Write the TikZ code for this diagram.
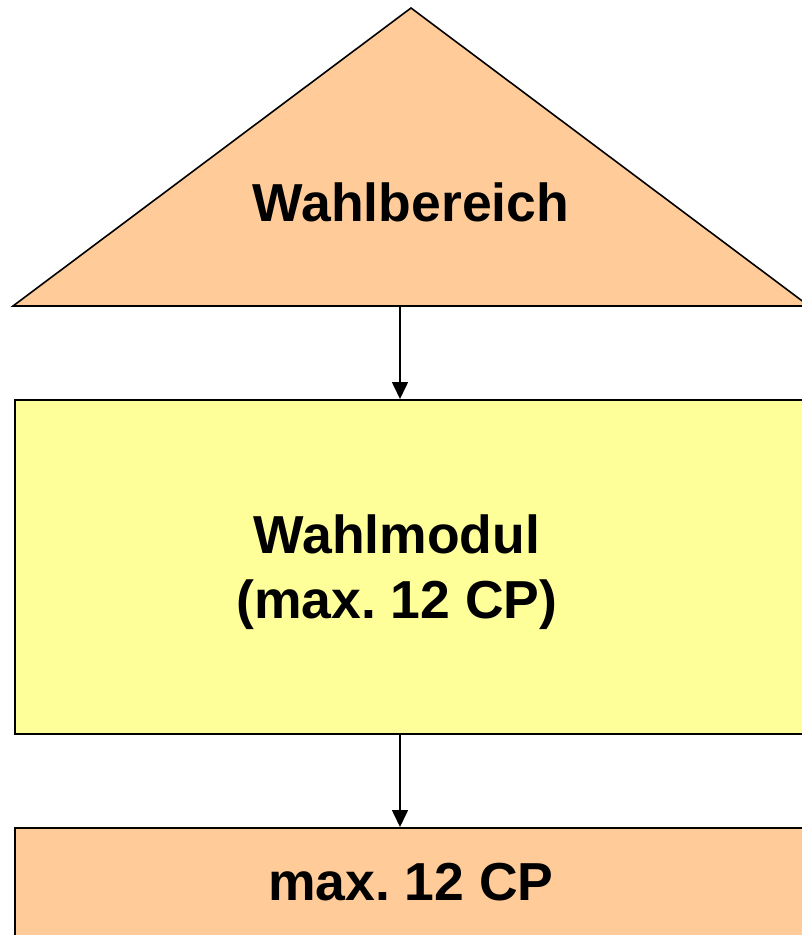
\documentclass[tikz,border=0pt]{standalone}
\usepackage{fontspec}
\setmainfont{Liberation Sans}
\usetikzlibrary{arrows.meta}
\definecolor{peach}{HTML}{FFCC99}
\definecolor{ylw}{HTML}{FFFF99}
\frenchspacing
\tikzset{
  boxshape/.style={draw=black, line width=1.6pt, anchor=north west, inner sep=0pt},
  lbl/.style={font=\bfseries\fontsize{53.5}{65}\selectfont, align=center, inner sep=0pt},
  arr/.style={line width=1.6pt, -{Triangle[width=16pt,length=17pt]}},
}
\begin{document}
\begin{tikzpicture}[x=1pt,y=-1pt]
\useasboundingbox (0,0) rectangle (802,935);
\clip (0,0) rectangle (802,935);
\fill[white] (0,0) rectangle (802,935);
% triangle
\filldraw[fill=peach, draw=black, line width=1.6pt, line join=miter] (13,306) -- (411,8) -- (809,306) -- cycle;
\node[lbl] (bereich) at (411,202) {Wahlbereich};
\coordinate (tribase) at (400,306);
% middle box
\node[boxshape, fill=ylw, minimum width=796pt, minimum height=334pt] (modul) at (14,399) {};
\node[lbl] (modultext) at (397,572) {Wahlmodul\\(max. 12 CP)};
% bottom box
\node[boxshape, fill=peach, minimum width=796pt, minimum height=200pt] (cp) at (14,827) {};
\node[lbl] (cptext) at (411,882) {max. 12 CP};
% arrows
\draw[arr] (tribase) -- (tribase |- modul.north);
\coordinate (modbot) at (400,733);
\draw[arr] (modbot) -- (modbot |- cp.north);
\end{tikzpicture}
\end{document}
